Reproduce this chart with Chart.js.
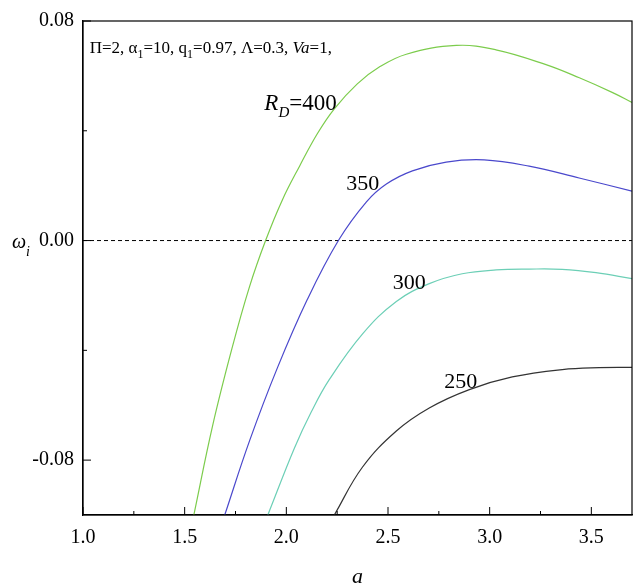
<!DOCTYPE html>
<html>
<head>
<meta charset="utf-8">
<script src="https://cdn.jsdelivr.net/npm/chart.js@4.4.1/dist/chart.umd.min.js"></script>
<style>
  html, body { margin: 0; padding: 0; background: #fff; }
  #wrap { width: 640px; height: 586px; }
</style>
</head>
<body>
<div id="wrap"><canvas id="omega-chart" width="640" height="586"></canvas></div>
<script>
// wave number a (x) and growth rate omega_i (y)
const aRd400 = [1.545, 1.637, 1.732, 1.819, 1.898, 1.981, 2.065, 2.153, 2.236, 2.349, 2.457, 2.590, 2.836, 3.031, 3.277, 3.441, 3.605, 3.700];
const wRd400 = [-0.100, -0.0676, -0.0395, -0.0168, 0.000, 0.0149, 0.0271, 0.0390, 0.0480, 0.0571, 0.0632, 0.0679, 0.0711, 0.0695, 0.0641, 0.0593, 0.0539, 0.0503];

const aRd350 = [1.697, 1.819, 1.956, 2.103, 2.256, 2.394, 2.492, 2.620, 2.786, 2.973, 3.194, 3.440, 3.700];
const wRd350 = [-0.100, -0.0730, -0.0464, -0.0215, 0.000, 0.0141, 0.0206, 0.0254, 0.0286, 0.0294, 0.0271, 0.0228, 0.0180];

const aRd300 = [1.909, 2.040, 2.123, 2.211, 2.374, 2.541, 2.703, 2.865, 3.032, 3.194, 3.356, 3.523, 3.700];
const wRd300 = [-0.100, -0.0756, -0.0624, -0.0507, -0.0341, -0.0222, -0.0157, -0.0121, -0.0107, -0.0104, -0.0105, -0.0117, -0.0139];

const aRd250 = [2.236, 2.374, 2.541, 2.703, 2.900, 3.111, 3.357, 3.539, 3.700];
const wRd250 = [-0.100, -0.0826, -0.0694, -0.0610, -0.0543, -0.0497, -0.0470, -0.0463, -0.0462];

const zeroLineA = [1.0, 3.7];
const zeroLineW = [0, 0];

const xMajorTicks = [1.0, 1.5, 2.0, 2.5, 3.0, 3.5];
const xMinorTicks = [1.25, 1.75, 2.25, 2.75, 3.25];
const yMajorTicks = [-0.08, 0.0, 0.08];
const yMinorTicks = [-0.04, 0.04];

const SERIF = '"Liberation Serif", "Times New Roman", serif';

function toPoints(xs, ys) {
  return xs.map((x, i) => ({ x: x, y: ys[i] }));
}

// draw a line of text made of pieces (italic / subscript)
function drawRuns(ctx, x, y, runs) {
  runs.forEach((r) => {
    ctx.font = (r.italic ? "italic " : "") + r.size + "px " + SERIF;
    ctx.fillText(r.text, x, y + (r.dy || 0));
    x += ctx.measureText(r.text).width;
  });
}

const framePlugin = {
  id: "frame",
  afterDatasetsDraw(chart) {
    const ctx = chart.ctx;
    const area = chart.chartArea;
    const xs = chart.scales.x;
    const ys = chart.scales.y;
    ctx.save();
    ctx.strokeStyle = "#000";
    ctx.lineWidth = 1.2;
    // box round the plot
    ctx.strokeRect(area.left, area.top, area.right - area.left, area.bottom - area.top);

    // inward ticks
    ctx.lineWidth = 1;
    ctx.beginPath();
    xMajorTicks.forEach((v) => {
      const px = xs.getPixelForValue(v);
      ctx.moveTo(px, area.bottom);
      ctx.lineTo(px, area.bottom - 8);
    });
    xMinorTicks.forEach((v) => {
      const px = xs.getPixelForValue(v);
      ctx.moveTo(px, area.bottom);
      ctx.lineTo(px, area.bottom - 4);
    });
    yMajorTicks.forEach((v) => {
      const py = ys.getPixelForValue(v);
      ctx.moveTo(area.left, py);
      ctx.lineTo(area.left + 8, py);
    });
    yMinorTicks.forEach((v) => {
      const py = ys.getPixelForValue(v);
      ctx.moveTo(area.left, py);
      ctx.lineTo(area.left + 4, py);
    });
    ctx.stroke();

    ctx.fillStyle = "#000";
    ctx.textBaseline = "alphabetic";
    ctx.textAlign = "left";

    // parameter line, top left
    drawRuns(ctx, xs.getPixelForValue(1.033), ys.getPixelForValue(0.0682), [
      { text: "\u03A0=2, \u03B1", size: 17 },
      { text: "1", size: 12, dy: 5 },
      { text: "=10, q", size: 17 },
      { text: "1", size: 12, dy: 5 },
      { text: "=0.97, \u039B=0.3, ", size: 17 },
      { text: "Va", size: 17, italic: true },
      { text: "=1,", size: 17 },
    ]);

    // curve labels
    drawRuns(ctx, xs.getPixelForValue(1.892), ys.getPixelForValue(0.0477), [
      { text: "R", size: 23, italic: true },
      { text: "D", size: 15, italic: true, dy: 7 },
      { text: "=400", size: 23 },
    ]);
    drawRuns(ctx, xs.getPixelForValue(2.295), ys.getPixelForValue(0.0186), [{ text: "350", size: 22 }]);
    drawRuns(ctx, xs.getPixelForValue(2.523), ys.getPixelForValue(-0.0177), [{ text: "300", size: 22 }]);
    drawRuns(ctx, xs.getPixelForValue(2.777), ys.getPixelForValue(-0.0537), [{ text: "250", size: 22 }]);

    // y axis title
    const y0 = ys.getPixelForValue(0);
    drawRuns(ctx, 12, y0 + 7, [
      { text: "\u03C9", size: 20, italic: true },
      { text: "i", size: 14, italic: true, dy: 8 },
    ]);
    ctx.restore();
  },
};

const ctx = document.getElementById("omega-chart").getContext("2d");

new Chart(ctx, {
  type: "line",
  data: {
    datasets: [
      {
        label: "R_D=400",
        data: toPoints(aRd400, wRd400),
        borderColor: "#7ccc4c",
        borderWidth: 1.2,
      },
      {
        label: "350",
        data: toPoints(aRd350, wRd350),
        borderColor: "#4a48cc",
        borderWidth: 1.2,
      },
      {
        label: "300",
        data: toPoints(aRd300, wRd300),
        borderColor: "#6ccfb6",
        borderWidth: 1.2,
      },
      {
        label: "250",
        data: toPoints(aRd250, wRd250),
        borderColor: "#333333",
        borderWidth: 1.2,
      },
      {
        label: "zero",
        data: toPoints(zeroLineA, zeroLineW),
        borderColor: "#000",
        borderWidth: 1,
        borderDash: [4, 3],
        tension: 0,
      },
    ],
  },
  options: {
    responsive: false,
    animation: false,
    parsing: false,
    layout: { padding: { top: 16, right: 8, left: 0, bottom: 0 } },
    elements: {
      point: { radius: 0 },
      line: { tension: 0.4, fill: false },
    },
    plugins: {
      legend: { display: false },
      tooltip: { enabled: false },
    },
    scales: {
      x: {
        type: "linear",
        min: 1.0,
        max: 3.7,
        grid: { display: false, drawTicks: false },
        border: { display: true, color: "#000", width: 1.2 },
        afterBuildTicks: (scale) => {
          scale.ticks = xMajorTicks.map((v) => ({ value: v }));
        },
        afterFit: (scale) => {
          scale.height = 71;
        },
        ticks: {
          autoSkip: false,
          maxRotation: 0,
          padding: 11,
          color: "#000",
          font: { family: SERIF, size: 20 },
          callback: (v) => Number(v).toFixed(1),
        },
        title: {
          display: true,
          text: "a",
          color: "#000",
          font: { family: SERIF, size: 22, style: "italic", lineHeight: 1 },
          padding: { top: 0, bottom: -2 },
        },
      },
      y: {
        type: "linear",
        min: -0.1,
        max: 0.08,
        grid: { display: false, drawTicks: false },
        border: { display: true, color: "#000", width: 1.2 },
        afterBuildTicks: (scale) => {
          scale.ticks = yMajorTicks.map((v) => ({ value: v }));
        },
        afterFit: (scale) => {
          scale.width = 83;
        },
        ticks: {
          autoSkip: false,
          padding: 9,
          color: "#000",
          font: { family: SERIF, size: 20 },
          callback: (v) => Number(v).toFixed(2),
        },
      },
    },
  },
  plugins: [framePlugin],
});
</script>
</body>
</html>
